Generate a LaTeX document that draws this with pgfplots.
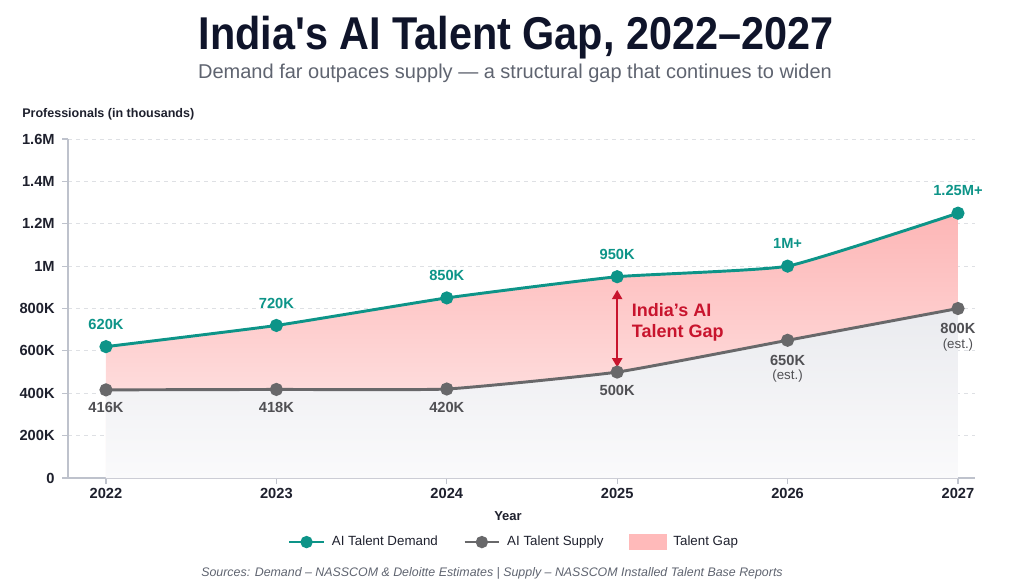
\documentclass[border=0pt]{standalone}
\usepackage{pgfplots}
\pgfplotsset{compat=1.18}
\usepackage{pgfplotstable}
\usepackage{fontspec}
\setmainfont{Liberation Sans}
\usetikzlibrary{arrows.meta}

\definecolor{demandc}{RGB}{13,148,136}
\definecolor{supplyc}{RGB}{104,104,106}
\definecolor{supplylbl}{RGB}{80,80,84}
\definecolor{gapred}{RGB}{200,20,45}
\definecolor{gappinktop}{RGB}{253,182,182}
\definecolor{gappinkbot}{RGB}{255,238,238}
\definecolor{gapkey}{RGB}{255,186,186}
\definecolor{basetop}{RGB}{234,235,239}
\definecolor{basebot}{RGB}{250,250,251}
\definecolor{titlec}{RGB}{15,20,42}
\definecolor{subc}{RGB}{95,100,112}
\definecolor{axisc}{RGB}{190,194,204}
\definecolor{gridc}{RGB}{222,224,228}
\definecolor{textc}{RGB}{30,32,45}

% two-line label for estimated supply figures
\newcommand\estlbl[1]{\begin{tabular}{@{}c@{}}#1\\[-2pt]{\fontsize{10}{11}\selectfont\mdseries(est.)}\end{tabular}}

\pgfplotstableread{
year demand dlabel
2022 620  620K
2023 720  720K
2024 850  850K
2025 950  950K
2026 1000 1M+
2027 1250 1.25M+
}\demandtable

\pgfplotstableread{
year supply slabel
2022 416 416K
2023 418 418K
2024 420 420K
2025 500 500K
2026 650 \estlbl{650K}
2027 800 \estlbl{800K}
}\supplytable

\begin{document}
\begin{tikzpicture}
\path[use as bounding box] (0pt,0pt) rectangle (768pt,437.25pt);

\begin{axis}[
  at={(51pt,78.75pt)}, anchor=south west,
  scale only axis, width=680.25pt, height=254.25pt,
  xmin=2021.777, xmax=2027.1, ymin=0, ymax=1600,
  axis x line=bottom, axis y line=left,
  axis line style={draw=axisc, line width=1pt, -},
  xtick={2022,2023,2024,2025,2026,2027},
  xticklabels={2022,2023,2024,2025,2026,2027},
  ytick={0,200,400,600,800,1000,1200,1400,1600},
  yticklabels={0,200K,400K,600K,800K,1M,1.2M,1.4M,1.6M},
  tick align=outside, major tick length=4.5pt,
  tick style={draw=axisc, line width=0.8pt},
  ymajorgrids,
  grid style={draw=gridc, dash pattern=on 3pt off 3pt, line width=0.6pt},
  ticklabel style={font=\fontsize{11}{13}\selectfont\bfseries, text=textc},
  yticklabel style={xshift=-2pt},
  legend columns=3,
  legend cell align=left,
  legend style={at={(0.492,-0.189)}, anchor=center, draw=none, fill=none,
    font=\fontsize{10}{12}\selectfont, text=textc,
    /tikz/every odd column/.append style={column sep=3pt},
    /tikz/every even column/.append style={column sep=17pt}},
  legend image code/.code={
    \draw[mark repeat=2, mark phase=2, #1] plot coordinates {(0pt,0pt) (13pt,0pt) (26pt,0pt)};},
]

% legend keys
\addlegendimage{demandc, line width=2pt, mark=*, mark size=3.6pt,
  mark options={fill=demandc, draw=none}}
\addlegendentry{AI Talent Demand}
\addlegendimage{supplyc, line width=2pt, mark=*, mark size=3.6pt,
  mark options={fill=supplyc, draw=none}}
\addlegendentry{AI Talent Supply}
\addlegendimage{legend image code/.code={
  \fill[gapkey] (0pt,-5.6pt) rectangle (28pt,5.6pt);}}
\addlegendentry{Talent Gap}

% shaded gap (under demand), then the supply base drawn over it
\addplot[draw=none, top color=gappinktop, bottom color=gappinkbot,
  smooth, tension=0.25, forget plot]
  table[x=year, y=demand] {\demandtable} \closedcycle;
\addplot[draw=none, top color=basetop, bottom color=basebot,
  smooth, tension=0.25, forget plot]
  table[x=year, y=supply] {\supplytable} \closedcycle;

% supply line
\addplot[supplyc, line width=2.2pt, smooth, tension=0.25, forget plot,
  mark=*, mark size=3.8pt, mark options={fill=supplyc, draw=none},
  point meta=explicit symbolic, nodes near coords,
  every node near coord/.append style={anchor=north, yshift=-8.5pt,
    inner sep=0pt, font=\fontsize{11}{13}\selectfont\bfseries, text=supplylbl}]
  table[x=year, y=supply, meta=slabel] {\supplytable};

% demand line
\addplot[demandc, line width=2.2pt, smooth, tension=0.25, forget plot,
  mark=*, mark size=3.8pt, mark options={fill=demandc, draw=none},
  point meta=explicit symbolic, nodes near coords,
  every node near coord/.append style={anchor=base, yshift=13pt,
    inner sep=0pt, font=\fontsize{11}{13}\selectfont\bfseries, text=demandc}]
  table[x=year, y=demand, meta=dlabel] {\demandtable};

% gap annotation
\draw[gapred, line width=1.8pt,
  {Triangle[length=7pt,width=7.5pt]}-{Triangle[length=7pt,width=7.5pt]}]
  (axis cs:2025,888) -- (axis cs:2025,522);
\node[anchor=west, align=left, text=gapred, inner sep=0pt,
  font=\fontsize{13.5}{15.75}\selectfont\bfseries]
  at (axis cs:2025.085,734) {India’s AI\\Talent Gap};
\end{axis}

% titles and notes (positions in pixel units)
\begin{scope}[x=0.75pt,y=0.75pt]
\node[anchor=base, text=titlec, inner sep=0pt] at (516,533)
  {\scalebox{0.9}[1]{\fontsize{34.5}{40}\selectfont\bfseries India\textquotesingle s AI Talent Gap, 2022–2027}};
\node[anchor=base, text=subc, inner sep=0pt, font=\fontsize{15}{17}\selectfont]
  at (515,504) {Demand far outpaces supply — a structural gap that continues to widen};
\node[anchor=base west, inner sep=0pt, text=textc, font=\fontsize{9.4}{12}\selectfont\bfseries]
  at (22,465) {Professionals (in thousands)};
\node[anchor=base, inner sep=0pt, text=textc, font=\fontsize{9.75}{12}\selectfont\bfseries]
  at (508,63) {Year};
\node[anchor=base, inner sep=0pt, text=subc, font=\fontsize{9.3}{11}\selectfont\itshape]
  at (492,7) {Sources: Demand – NASSCOM \& Deloitte Estimates | Supply – NASSCOM Installed Talent Base Reports};
\end{scope}
\end{tikzpicture}
\end{document}
